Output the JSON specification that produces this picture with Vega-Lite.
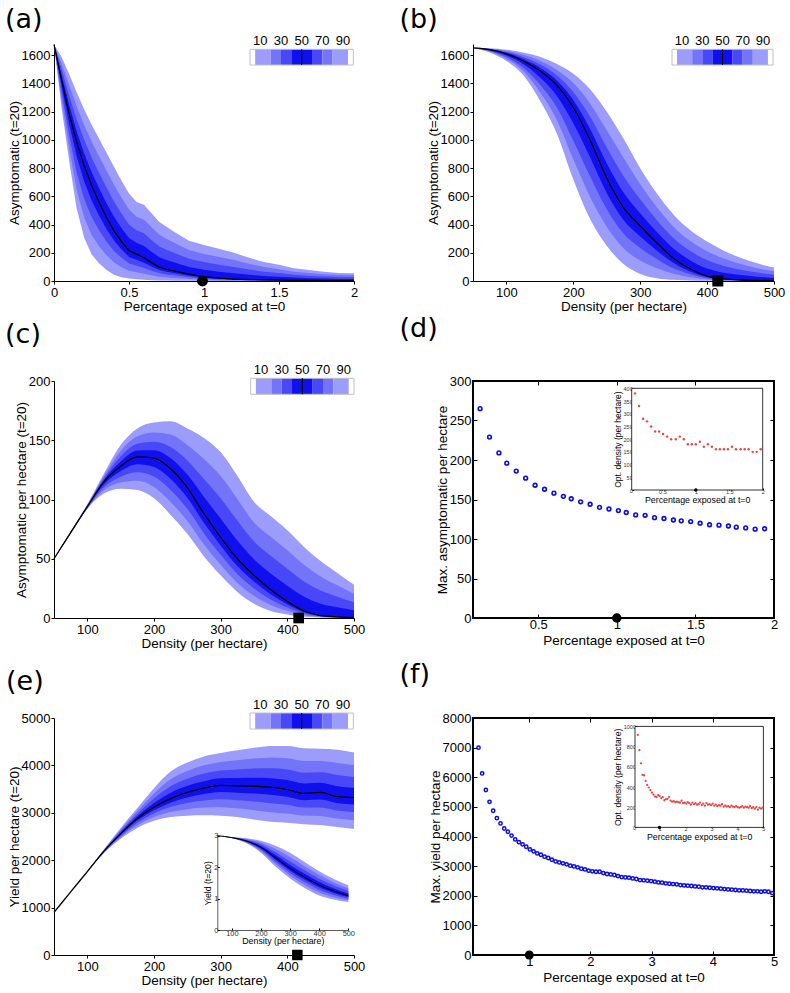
{
"$schema": "https://vega.github.io/schema/vega-lite/v6.json",
"padding": {"left": 5, "top": 6, "right": 2, "bottom": 2},
"background": "white",
"datasets": {
"cbar": [{"c0":0,"c1":5,"k":"w"},{"c0":5,"c1":20,"k":"L1"},{"c0":20,"c1":30,"k":"L2"},{"c0":30,"c1":40,"k":"L3"},{"c0":40,"c1":60,"k":"L4"},{"c0":60,"c1":70,"k":"L3"},{"c0":70,"c1":80,"k":"L2"},{"c0":80,"c1":95,"k":"L1"},{"c0":95,"c1":100,"k":"w"}],
"cbarlab": [{"v":10},{"v":30},{"v":50},{"v":70},{"v":90}],
"a": [
{"x":0,"p10":1675,"p20":1675,"p30":1675,"p40":1675,"p50":1675,"p60":1675,"p70":1675,"p80":1675,"p90":1675},
{"x":0.05,"p10":1230,"p20":1286,"p30":1338,"p40":1386,"p50":1430,"p60":1465,"p70":1504,"p80":1545,"p90":1590},
{"x":0.1,"p10":860,"p20":952,"p30":1038,"p40":1117,"p50":1190,"p60":1252,"p70":1319,"p80":1392,"p90":1470},
{"x":0.15,"p10":520,"p20":652,"p30":774,"p40":887,"p50":990,"p60":1067,"p70":1151,"p80":1242,"p90":1340},
{"x":0.2,"p10":310,"p20":453,"p30":585,"p40":708,"p50":820,"p60":908,"p70":1004,"p80":1108,"p90":1220},
{"x":0.25,"p10":190,"p20":327,"p30":455,"p40":572,"p50":680,"p60":775,"p70":878,"p80":990,"p90":1110},
{"x":0.3,"p10":125,"p20":247,"p30":360,"p40":464,"p50":560,"p60":659,"p70":767,"p80":884,"p90":1010},
{"x":0.35,"p10":78,"p20":182,"p30":279,"p40":368,"p50":450,"p60":551,"p70":662,"p80":781,"p90":910},
{"x":0.4,"p10":45,"p20":132,"p30":212,"p40":287,"p50":355,"p60":455,"p70":564,"p80":683,"p90":810},
{"x":0.45,"p10":27,"p20":98,"p30":164,"p40":224,"p50":280,"p60":375,"p70":478,"p80":590,"p90":710},
{"x":0.5,"p10":17,"p20":72,"p30":124,"p40":171,"p50":215,"p60":304,"p70":401,"p80":507,"p90":620},
{"x":0.55,"p10":12,"p20":62,"p30":108,"p40":151,"p50":190,"p60":271,"p70":360,"p80":456,"p90":560},
{"x":0.6,"p10":8,"p20":52,"p30":93,"p40":130,"p50":165,"p60":248,"p70":338,"p80":435,"p90":540},
{"x":0.65,"p10":6,"p20":41,"p30":73,"p40":103,"p50":130,"p60":207,"p70":291,"p80":382,"p90":480},
{"x":0.7,"p10":4,"p20":31,"p30":56,"p40":79,"p50":100,"p60":170,"p70":247,"p80":330,"p90":420},
{"x":0.75,"p10":3,"p20":25,"p30":46,"p40":65,"p50":82,"p60":149,"p70":221,"p80":300,"p90":385},
{"x":0.8,"p10":2,"p20":22,"p30":40,"p40":57,"p50":72,"p60":133,"p70":200,"p80":272,"p90":350},
{"x":0.9,"p10":1,"p20":14,"p30":26,"p40":38,"p50":48,"p60":100,"p70":157,"p80":219,"p90":285},
{"x":1.0,"p10":0,"p20":8,"p30":16,"p40":23,"p50":30,"p60":80,"p70":134,"p80":192,"p90":255},
{"x":1.1,"p10":0,"p20":6,"p30":11,"p40":16,"p50":20,"p60":66,"p70":116,"p80":170,"p90":228},
{"x":1.2,"p10":0,"p20":4,"p30":8,"p40":11,"p50":14,"p60":55,"p70":100,"p80":148,"p90":200},
{"x":1.3,"p10":0,"p20":3,"p30":5,"p40":8,"p50":10,"p60":44,"p70":81,"p80":122,"p90":165},
{"x":1.4,"p10":0,"p20":2,"p30":4,"p40":6,"p50":8,"p60":36,"p70":66,"p80":99,"p90":135},
{"x":1.5,"p10":0,"p20":2,"p30":3,"p40":5,"p50":6,"p60":30,"p70":56,"p80":84,"p90":115},
{"x":1.6,"p10":0,"p20":1,"p30":3,"p40":4,"p50":5,"p60":24,"p70":44,"p80":66,"p90":90},
{"x":1.7,"p10":0,"p20":1,"p30":2,"p40":3,"p50":4,"p60":20,"p70":38,"p80":57,"p90":78},
{"x":1.8,"p10":0,"p20":1,"p30":2,"p40":2,"p50":3,"p60":17,"p70":32,"p80":48,"p90":65},
{"x":1.9,"p10":0,"p20":1,"p30":2,"p40":2,"p50":3,"p60":15,"p70":28,"p80":42,"p90":57},
{"x":2.0,"p10":0,"p20":1,"p30":1,"p40":2,"p50":2,"p60":14,"p70":26,"p80":40,"p90":55}
],
"b": [
{"x":50,"p10":1652,"p20":1652,"p30":1652,"p40":1652,"p50":1652,"p60":1652,"p70":1652,"p80":1652,"p90":1652},
{"x":75,"p10":1620,"p20":1626,"p30":1631,"p40":1636,"p50":1640,"p60":1642,"p70":1645,"p80":1647,"p90":1650},
{"x":100,"p10":1560,"p20":1574,"p30":1587,"p40":1599,"p50":1610,"p60":1617,"p70":1624,"p80":1632,"p90":1640},
{"x":125,"p10":1460,"p20":1488,"p30":1514,"p40":1538,"p50":1560,"p60":1573,"p70":1588,"p80":1603,"p90":1620},
{"x":150,"p10":1280,"p20":1339,"p30":1393,"p40":1444,"p50":1490,"p60":1512,"p70":1536,"p80":1562,"p90":1590},
{"x":175,"p10":1050,"p20":1145,"p30":1234,"p40":1315,"p50":1390,"p60":1423,"p70":1459,"p80":1498,"p90":1540},
{"x":200,"p10":720,"p20":863,"p30":995,"p40":1118,"p50":1230,"p60":1283,"p70":1340,"p80":1403,"p90":1470},
{"x":225,"p10":440,"p20":597,"p30":742,"p40":877,"p50":1000,"p60":1079,"p70":1166,"p80":1259,"p90":1360},
{"x":250,"p10":250,"p20":384,"p30":509,"p40":624,"p50":730,"p60":833,"p70":946,"p80":1068,"p90":1200},
{"x":275,"p10":120,"p20":232,"p30":336,"p40":432,"p50":520,"p60":628,"p70":745,"p80":873,"p90":1010},
{"x":300,"p10":50,"p20":145,"p30":234,"p40":315,"p50":390,"p60":480,"p70":579,"p80":685,"p90":800},
{"x":325,"p10":20,"p20":90,"p30":155,"p40":215,"p50":270,"p60":347,"p70":431,"p80":522,"p90":620},
{"x":350,"p10":8,"p20":51,"p30":90,"p40":127,"p50":160,"p60":228,"p70":303,"p80":383,"p90":470},
{"x":375,"p10":3,"p20":26,"p30":47,"p40":67,"p50":85,"p60":146,"p70":212,"p80":283,"p90":360},
{"x":400,"p10":1,"p20":11,"p30":19,"p40":28,"p50":35,"p60":89,"p70":148,"p80":211,"p90":280},
{"x":425,"p10":0,"p20":4,"p30":8,"p40":12,"p50":15,"p60":59,"p70":107,"p80":159,"p90":215},
{"x":450,"p10":0,"p20":2,"p30":4,"p40":5,"p50":7,"p60":42,"p70":80,"p80":121,"p90":165},
{"x":475,"p10":0,"p20":1,"p30":2,"p40":3,"p50":4,"p60":31,"p70":60,"p80":91,"p90":125},
{"x":500,"p10":0,"p20":1,"p30":1,"p40":2,"p50":2,"p60":22,"p70":45,"p80":69,"p90":95}
],
"c": [
{"x":50,"p10":50,"p20":50,"p30":50,"p40":50,"p50":50,"p60":50,"p70":50,"p80":50,"p90":50},
{"x":75,"p10":71,"p20":71.3,"p30":71.5,"p40":71.8,"p50":72,"p60":72.2,"p70":72.5,"p80":72.7,"p90":73},
{"x":100,"p10":92,"p20":92.6,"p30":93.1,"p40":93.6,"p50":94,"p60":94.4,"p70":94.9,"p80":95.4,"p90":96},
{"x":125,"p10":105,"p20":107.8,"p30":110.4,"p40":112.8,"p50":115,"p60":116.5,"p70":118.2,"p80":120,"p90":122},
{"x":150,"p10":109,"p20":114.3,"p30":119.3,"p40":123.8,"p50":128,"p60":132,"p70":136.3,"p80":141,"p90":146},
{"x":175,"p10":108,"p20":115.8,"p30":123.1,"p40":129.8,"p50":136,"p60":141.3,"p70":147,"p80":153.3,"p90":160},
{"x":200,"p10":101,"p20":110.5,"p30":119.4,"p40":127.5,"p50":135,"p60":141.6,"p70":148.8,"p80":156.6,"p90":165},
{"x":225,"p10":87,"p20":97.9,"p30":108.1,"p40":117.4,"p50":126,"p60":134.8,"p70":144.4,"p80":154.8,"p90":166},
{"x":250,"p10":71,"p20":81.9,"p30":92.1,"p40":101.4,"p50":110,"p60":121,"p70":133,"p80":146,"p90":160},
{"x":275,"p10":52,"p20":62.1,"p30":71.4,"p40":80.1,"p50":88,"p60":102.1,"p70":117.4,"p80":134.1,"p90":152},
{"x":300,"p10":36,"p20":45,"p30":53.3,"p40":61,"p50":68,"p60":83.8,"p70":101.1,"p80":119.8,"p90":140},
{"x":325,"p10":22,"p20":29.8,"p30":37.1,"p40":43.8,"p50":50,"p60":65.4,"p70":82.2,"p80":100.4,"p90":120},
{"x":350,"p10":12,"p20":18.7,"p30":25,"p40":30.7,"p50":36,"p60":49.6,"p70":64.5,"p80":80.6,"p90":98},
{"x":375,"p10":6,"p20":11,"p30":15.7,"p40":20,"p50":24,"p60":37.6,"p70":52.5,"p80":68.6,"p90":86},
{"x":400,"p10":3,"p20":6.1,"p30":8.9,"p40":11.6,"p50":14,"p60":27.2,"p70":41.6,"p80":57.2,"p90":74},
{"x":425,"p10":1,"p20":2.4,"p30":3.7,"p40":4.9,"p50":6,"p60":17.9,"p70":30.8,"p80":44.9,"p90":60},
{"x":450,"p10":0.5,"p20":0.9,"p30":1.3,"p40":1.7,"p50":2,"p60":12.1,"p70":23.2,"p80":35.1,"p90":48},
{"x":475,"p10":0,"p20":0.3,"p30":0.5,"p40":0.8,"p50":1,"p60":9.1,"p70":18,"p80":27.6,"p90":38},
{"x":500,"p10":0,"p20":0.1,"p30":0.3,"p40":0.4,"p50":0.5,"p60":6.6,"p70":13.2,"p80":20.3,"p90":28}
],
"e": [
{"x":50,"p10":900,"p20":900,"p30":900,"p40":900,"p50":900,"p60":900,"p70":900,"p80":900,"p90":900},
{"x":75,"p10":1330,"p20":1330,"p30":1330,"p40":1330,"p50":1330,"p60":1330,"p70":1330,"p80":1330,"p90":1330},
{"x":100,"p10":1750,"p20":1753,"p30":1755,"p40":1758,"p50":1760,"p60":1762,"p70":1765,"p80":1767,"p90":1770},
{"x":125,"p10":2150,"p20":2161,"p30":2172,"p40":2181,"p50":2190,"p60":2199,"p70":2208,"p80":2219,"p90":2230},
{"x":150,"p10":2450,"p20":2481,"p30":2509,"p40":2536,"p50":2560,"p60":2586,"p70":2615,"p80":2646,"p90":2680},
{"x":175,"p10":2680,"p20":2736,"p30":2788,"p40":2836,"p50":2880,"p60":2928,"p70":2981,"p80":3038,"p90":3100},
{"x":200,"p10":2830,"p20":2911,"p30":2987,"p40":3056,"p50":3120,"p60":3208,"p70":3304,"p80":3408,"p90":3520},
{"x":225,"p10":2910,"p20":3019,"p30":3121,"p40":3214,"p50":3300,"p60":3425,"p70":3562,"p80":3710,"p90":3870},
{"x":250,"p10":2940,"p20":3077,"p30":3205,"p40":3322,"p50":3430,"p60":3569,"p70":3720,"p80":3884,"p90":4060},
{"x":275,"p10":2950,"p20":3110,"p30":3258,"p40":3395,"p50":3520,"p60":3667,"p70":3828,"p80":4002,"p90":4190},
{"x":300,"p10":2940,"p20":3119,"p30":3286,"p40":3439,"p50":3580,"p60":3730,"p70":3893,"p80":4070,"p90":4260},
{"x":325,"p10":2910,"p20":3095,"p30":3266,"p40":3425,"p50":3570,"p60":3735,"p70":3915,"p80":4110,"p90":4320},
{"x":350,"p10":2860,"p20":3056,"p30":3238,"p40":3406,"p50":3560,"p60":3738,"p70":3933,"p80":4143,"p90":4370},
{"x":375,"p10":2810,"p20":3014,"p30":3204,"p40":3379,"p50":3540,"p60":3731,"p70":3940,"p80":4166,"p90":4410},
{"x":400,"p10":2790,"p20":2986,"p30":3168,"p40":3336,"p50":3490,"p60":3692,"p70":3913,"p80":4152,"p90":4410},
{"x":425,"p10":2760,"p20":2942,"p30":3111,"p40":3267,"p50":3410,"p60":3619,"p70":3847,"p80":4094,"p90":4360},
{"x":450,"p10":2740,"p20":2933,"p30":3113,"p40":3278,"p50":3430,"p60":3632,"p70":3853,"p80":4092,"p90":4350},
{"x":475,"p10":2700,"p20":2879,"p30":3046,"p40":3199,"p50":3340,"p60":3558,"p70":3795,"p80":4053,"p90":4330},
{"x":500,"p10":2660,"p20":2845,"p30":3016,"p40":3175,"p50":3320,"p60":3529,"p70":3757,"p80":4004,"p90":4270}
],
"einset": [
{"x":50,"p10":30000,"p20":30000,"p30":30000,"p40":30000,"p50":30000,"p60":30000,"p70":30000,"p80":30000,"p90":30000},
{"x":100,"p10":29200,"p20":29256,"p30":29308,"p40":29356,"p50":29400,"p60":29444,"p70":29492,"p80":29544,"p90":29600},
{"x":150,"p10":27600,"p20":27796,"p30":27978,"p40":28146,"p50":28300,"p60":28498,"p70":28714,"p80":28948,"p90":29200},
{"x":200,"p10":24600,"p20":25076,"p30":25518,"p40":25926,"p50":26300,"p60":26762,"p70":27266,"p80":27812,"p90":28400},
{"x":250,"p10":20200,"p20":20984,"p30":21712,"p40":22384,"p50":23000,"p60":23836,"p70":24748,"p80":25736,"p90":26800},
{"x":300,"p10":16400,"p20":17296,"p30":18128,"p40":18896,"p50":19600,"p60":20700,"p70":21900,"p80":23200,"p90":24600},
{"x":350,"p10":13400,"p20":14352,"p30":15236,"p40":16052,"p50":16800,"p60":17856,"p70":19008,"p80":20256,"p90":21600},
{"x":400,"p10":11000,"p20":11924,"p30":12782,"p40":13574,"p50":14300,"p60":15268,"p70":16324,"p80":17468,"p90":18700},
{"x":450,"p10":9700,"p20":10456,"p30":11158,"p40":11806,"p50":12400,"p60":13236,"p70":14148,"p80":15136,"p90":16200},
{"x":500,"p10":8900,"p20":9460,"p30":9980,"p40":10460,"p50":10900,"p60":11626,"p70":12418,"p80":13276,"p90":14200}
],
"d": [
{"x":0.13,"y":265,"xi":0.09,"opt":380},{"x":0.19,"y":229,"xi":0.15,"opt":330},{"x":0.25,"y":209,"xi":0.21,"opt":280},{"x":0.30,"y":196,"xi":0.27,"opt":270},
{"x":0.36,"y":186,"xi":0.33,"opt":250},{"x":0.42,"y":177,"xi":0.39,"opt":230},{"x":0.48,"y":168,"xi":0.45,"opt":230},{"x":0.54,"y":163,"xi":0.51,"opt":220},
{"x":0.60,"y":158,"xi":0.57,"opt":210},{"x":0.66,"y":154,"xi":0.63,"opt":200},{"x":0.71,"y":151,"xi":0.70,"opt":200},{"x":0.77,"y":147,"xi":0.76,"opt":210},
{"x":0.83,"y":144,"xi":0.82,"opt":200},{"x":0.89,"y":140,"xi":0.88,"opt":180},{"x":0.95,"y":138,"xi":0.94,"opt":180},{"x":1.01,"y":136,"xi":1.00,"opt":180},
{"x":1.06,"y":133.5,"xi":1.06,"opt":190},{"x":1.12,"y":130.5,"xi":1.12,"opt":170},{"x":1.18,"y":130,"xi":1.18,"opt":180},{"x":1.24,"y":127,"xi":1.24,"opt":170},
{"x":1.30,"y":126,"xi":1.30,"opt":160},{"x":1.36,"y":124,"xi":1.36,"opt":160},{"x":1.41,"y":123,"xi":1.42,"opt":160},{"x":1.47,"y":122,"xi":1.48,"opt":160},
{"x":1.53,"y":120,"xi":1.54,"opt":170},{"x":1.59,"y":118,"xi":1.60,"opt":160},{"x":1.65,"y":117.5,"xi":1.67,"opt":160},{"x":1.71,"y":116.5,"xi":1.73,"opt":160},
{"x":1.76,"y":115,"xi":1.79,"opt":160},{"x":1.82,"y":114,"xi":1.85,"opt":150},{"x":1.88,"y":112.5,"xi":1.91,"opt":150},{"x":1.94,"y":113,"xi":1.97,"opt":160}
],
"f": [
{"x":0.17,"y":7000,"opt":915},{"x":0.23,"y":6130,"opt":765},{"x":0.29,"y":5570,"opt":635},{"x":0.35,"y":5170,"opt":520},{"x":0.41,"y":4870,"opt":515},
{"x":0.47,"y":4620,"opt":460},{"x":0.53,"y":4440,"opt":420},{"x":0.59,"y":4270,"opt":395},{"x":0.65,"y":4160,"opt":370},{"x":0.71,"y":4030,"opt":345},
{"x":0.77,"y":3900,"opt":325},{"x":0.83,"y":3810,"opt":305},{"x":0.89,"y":3735,"opt":300},{"x":0.95,"y":3655,"opt":320},{"x":1.01,"y":3565,"opt":310},
{"x":1.07,"y":3500,"opt":290},{"x":1.13,"y":3430,"opt":300},{"x":1.19,"y":3385,"opt":270},{"x":1.25,"y":3320,"opt":280},{"x":1.31,"y":3275,"opt":280},
{"x":1.37,"y":3215,"opt":300},{"x":1.43,"y":3160,"opt":265},{"x":1.49,"y":3125,"opt":255},{"x":1.55,"y":3095,"opt":260},{"x":1.61,"y":3060,"opt":250},
{"x":1.67,"y":3015,"opt":255},{"x":1.73,"y":2990,"opt":250},{"x":1.79,"y":2960,"opt":245},{"x":1.85,"y":2915,"opt":265},{"x":1.91,"y":2890,"opt":240},
{"x":1.97,"y":2845,"opt":245},{"x":2.03,"y":2825,"opt":235},{"x":2.09,"y":2810,"opt":250},{"x":2.15,"y":2810,"opt":240},{"x":2.21,"y":2765,"opt":225},
{"x":2.27,"y":2735,"opt":245},{"x":2.33,"y":2720,"opt":230},{"x":2.39,"y":2700,"opt":240},{"x":2.45,"y":2665,"opt":225},{"x":2.51,"y":2630,"opt":230},
{"x":2.57,"y":2620,"opt":245},{"x":2.63,"y":2610,"opt":220},{"x":2.69,"y":2585,"opt":235},{"x":2.75,"y":2565,"opt":215},{"x":2.81,"y":2530,"opt":240},
{"x":2.87,"y":2520,"opt":225},{"x":2.93,"y":2510,"opt":230},{"x":2.99,"y":2495,"opt":220},{"x":3.05,"y":2475,"opt":235},{"x":3.11,"y":2450,"opt":215},
{"x":3.17,"y":2440,"opt":225},{"x":3.23,"y":2420,"opt":210},{"x":3.29,"y":2405,"opt":220},{"x":3.35,"y":2395,"opt":215},{"x":3.41,"y":2385,"opt":230},
{"x":3.47,"y":2360,"opt":205},{"x":3.53,"y":2350,"opt":215},{"x":3.59,"y":2340,"opt":205},{"x":3.65,"y":2330,"opt":210},{"x":3.71,"y":2315,"opt":200},
{"x":3.77,"y":2305,"opt":215},{"x":3.83,"y":2285,"opt":205},{"x":3.89,"y":2285,"opt":200},{"x":3.95,"y":2270,"opt":210},{"x":4.01,"y":2260,"opt":200},
{"x":4.07,"y":2250,"opt":195},{"x":4.13,"y":2240,"opt":200},{"x":4.19,"y":2225,"opt":210},{"x":4.25,"y":2215,"opt":195},{"x":4.31,"y":2205,"opt":205},
{"x":4.37,"y":2195,"opt":200},{"x":4.43,"y":2180,"opt":195},{"x":4.49,"y":2180,"opt":210},{"x":4.55,"y":2170,"opt":190},{"x":4.61,"y":2160,"opt":200},
{"x":4.67,"y":2150,"opt":185},{"x":4.73,"y":2150,"opt":200},{"x":4.79,"y":2135,"opt":175},{"x":4.85,"y":2150,"opt":195},{"x":4.91,"y":2135,"opt":185},
{"x":4.97,"y":2090,"opt":195}
]
},
"concat": [
{
 "width": 300, "height": 237,
 "title": {"text": "(a)", "dx": -49, "offset": 1},
 "layer": [
  {"data": {"name": "a"},
   "encoding": {"x": {"field": "x", "type": "quantitative", "scale": {"domain": [0, 2], "nice": false, "zero": false}, "axis": {"values": [0, 0.5, 1, 1.5, 2], "tickCount": 30, "format": "~f", "labelOverlap": false, "title": "Percentage exposed at t=0"}}},
   "layer": [
    {"mark": {"type": "area", "color": "#9c9cfb", "opacity": 1}, "encoding": {"y": {"field": "p10", "type": "quantitative", "scale": {"domain": [0, 1680], "nice": false}, "axis": {"values": [0, 200, 400, 600, 800, 1000, 1200, 1400, 1600], "tickCount": 30, "format": "~f", "labelOverlap": false, "title": "Asymptomatic (t=20)"}}, "y2": {"field": "p90"}}},
    {"mark": {"type": "area", "color": "#7474f9", "opacity": 1}, "encoding": {"y": {"field": "p20", "type": "quantitative"}, "y2": {"field": "p80"}}},
    {"mark": {"type": "area", "color": "#4848f6", "opacity": 1}, "encoding": {"y": {"field": "p30", "type": "quantitative"}, "y2": {"field": "p70"}}},
    {"mark": {"type": "area", "color": "#1010ee", "opacity": 1}, "encoding": {"y": {"field": "p40", "type": "quantitative"}, "y2": {"field": "p60"}}},
    {"mark": {"type": "line", "color": "#000", "strokeWidth": 1.3}, "encoding": {"y": {"field": "p50", "type": "quantitative"}}},
    {"data": {"values": [{"mx": 0.99, "my": 0}]}, "mark": {"type": "point", "shape": "circle", "filled": true, "color": "#000", "opacity": 1, "size": 120}, "encoding": {"x": {"field": "mx", "type": "quantitative"}, "y": {"field": "my", "type": "quantitative"}}}
   ]},
  {"layer": [
    {"data": {"name": "cbar"}, "mark": {"type": "rect"}, "encoding": {"x": {"field": "c0", "type": "quantitative", "scale": {"domain": [0, 100], "range": [196, 299.3], "nice": false, "zero": false}, "axis": null}, "x2": {"field": "c1"}, "y": {"datum": 0, "type": "quantitative", "scale": {"domain": [0, 1], "range": [21, 5.3], "nice": false}, "axis": null}, "y2": {"datum": 1}, "color": {"field": "k", "type": "nominal", "scale": {"domain": ["w", "L1", "L2", "L3", "L4"], "range": ["#ffffff", "#9c9cfb", "#7474f9", "#4848f6", "#1010ee"]}, "legend": null}}},
    {"data": {"values": [{}]}, "mark": {"type": "rect", "filled": false, "color": "#c0c0c0", "strokeWidth": 1}, "encoding": {"x": {"datum": 0}, "x2": {"datum": 100}, "y": {"datum": 0}, "y2": {"datum": 1}}},
    {"data": {"values": [{}]}, "mark": {"type": "rule", "color": "#000", "strokeWidth": 1.2}, "encoding": {"x": {"datum": 50}, "y": {"datum": 0}, "y2": {"datum": 1}}},
    {"data": {"name": "cbarlab"}, "mark": {"type": "text", "baseline": "bottom", "dy": -1, "fontSize": 13, "font": "Liberation Sans", "color": "#000"}, "encoding": {"x": {"field": "v", "type": "quantitative"}, "y": {"datum": 1}, "text": {"field": "v", "type": "quantitative"}}}
  ]}
 ],
 "resolve": {"scale": {"x": "independent", "y": "independent"}}
},
{
 "width": 301, "height": 237,
 "title": {"text": "(b)", "dx": -73.5, "offset": 1},
 "layer": [
  {"data": {"name": "b"},
   "encoding": {"x": {"field": "x", "type": "quantitative", "scale": {"domain": [50, 500], "nice": false, "zero": false}, "axis": {"values": [100, 200, 300, 400, 500], "tickCount": 30, "format": "~f", "labelOverlap": false, "title": "Density (per hectare)"}}},
   "layer": [
    {"mark": {"type": "area", "color": "#9c9cfb", "opacity": 1, "interpolate": "monotone"}, "encoding": {"y": {"field": "p10", "type": "quantitative", "scale": {"domain": [0, 1680], "nice": false}, "axis": {"values": [0, 200, 400, 600, 800, 1000, 1200, 1400, 1600], "tickCount": 30, "format": "~f", "labelOverlap": false, "title": "Asymptomatic (t=20)"}}, "y2": {"field": "p90"}}},
    {"mark": {"type": "area", "color": "#7474f9", "opacity": 1, "interpolate": "monotone"}, "encoding": {"y": {"field": "p20", "type": "quantitative"}, "y2": {"field": "p80"}}},
    {"mark": {"type": "area", "color": "#4848f6", "opacity": 1, "interpolate": "monotone"}, "encoding": {"y": {"field": "p30", "type": "quantitative"}, "y2": {"field": "p70"}}},
    {"mark": {"type": "area", "color": "#1010ee", "opacity": 1, "interpolate": "monotone"}, "encoding": {"y": {"field": "p40", "type": "quantitative"}, "y2": {"field": "p60"}}},
    {"mark": {"type": "line", "color": "#000", "strokeWidth": 1.3, "interpolate": "monotone"}, "encoding": {"y": {"field": "p50", "type": "quantitative"}}},
    {"data": {"values": [{"mx": 416, "my": 0}]}, "mark": {"type": "point", "shape": "square", "filled": true, "color": "#000", "opacity": 1, "size": 121}, "encoding": {"x": {"field": "mx", "type": "quantitative"}, "y": {"field": "my", "type": "quantitative"}}}
   ]},
  {"layer": [
    {"data": {"name": "cbar"}, "mark": {"type": "rect"}, "encoding": {"x": {"field": "c0", "type": "quantitative", "scale": {"domain": [0, 100], "range": [199, 300], "nice": false, "zero": false}, "axis": null}, "x2": {"field": "c1"}, "y": {"datum": 0, "type": "quantitative", "scale": {"domain": [0, 1], "range": [21, 5.3], "nice": false}, "axis": null}, "y2": {"datum": 1}, "color": {"field": "k", "type": "nominal", "scale": {"domain": ["w", "L1", "L2", "L3", "L4"], "range": ["#ffffff", "#9c9cfb", "#7474f9", "#4848f6", "#1010ee"]}, "legend": null}}},
    {"data": {"values": [{}]}, "mark": {"type": "rect", "filled": false, "color": "#c0c0c0", "strokeWidth": 1}, "encoding": {"x": {"datum": 0}, "x2": {"datum": 100}, "y": {"datum": 0}, "y2": {"datum": 1}}},
    {"data": {"values": [{}]}, "mark": {"type": "rule", "color": "#000", "strokeWidth": 1.2}, "encoding": {"x": {"datum": 50}, "y": {"datum": 0}, "y2": {"datum": 1}}},
    {"data": {"name": "cbarlab"}, "mark": {"type": "text", "baseline": "bottom", "dy": -1, "fontSize": 13, "font": "Liberation Sans", "color": "#000"}, "encoding": {"x": {"field": "v", "type": "quantitative"}, "y": {"datum": 1}, "text": {"field": "v", "type": "quantitative"}}}
  ]}
 ],
 "resolve": {"scale": {"x": "independent", "y": "independent"}}
},
{
 "width": 300, "height": 237,
 "title": {"text": "(c)", "dx": -49, "offset": 15},
 "layer": [
  {"data": {"name": "c"},
   "encoding": {"x": {"field": "x", "type": "quantitative", "scale": {"domain": [50, 500], "nice": false, "zero": false}, "axis": {"values": [100, 200, 300, 400, 500], "tickCount": 30, "format": "~f", "labelOverlap": false, "title": "Density (per hectare)"}}},
   "layer": [
    {"mark": {"type": "area", "color": "#9c9cfb", "opacity": 1, "interpolate": "monotone"}, "encoding": {"y": {"field": "p10", "type": "quantitative", "scale": {"domain": [0, 200], "nice": false}, "axis": {"values": [0, 50, 100, 150, 200], "tickCount": 30, "format": "~f", "labelOverlap": false, "title": "Asymptomatic per hectare (t=20)"}}, "y2": {"field": "p90"}}},
    {"mark": {"type": "area", "color": "#7474f9", "opacity": 1, "interpolate": "monotone"}, "encoding": {"y": {"field": "p20", "type": "quantitative"}, "y2": {"field": "p80"}}},
    {"mark": {"type": "area", "color": "#4848f6", "opacity": 1, "interpolate": "monotone"}, "encoding": {"y": {"field": "p30", "type": "quantitative"}, "y2": {"field": "p70"}}},
    {"mark": {"type": "area", "color": "#1010ee", "opacity": 1, "interpolate": "monotone"}, "encoding": {"y": {"field": "p40", "type": "quantitative"}, "y2": {"field": "p60"}}},
    {"mark": {"type": "line", "color": "#000", "strokeWidth": 1.3, "interpolate": "monotone"}, "encoding": {"y": {"field": "p50", "type": "quantitative"}}},
    {"data": {"values": [{"mx": 417, "my": 0}]}, "mark": {"type": "point", "shape": "square", "filled": true, "color": "#000", "opacity": 1, "size": 114}, "encoding": {"x": {"field": "mx", "type": "quantitative"}, "y": {"field": "my", "type": "quantitative"}}}
   ]},
  {"layer": [
    {"data": {"name": "cbar"}, "mark": {"type": "rect"}, "encoding": {"x": {"field": "c0", "type": "quantitative", "scale": {"domain": [0, 100], "range": [196.7, 300], "nice": false, "zero": false}, "axis": null}, "x2": {"field": "c1"}, "y": {"datum": 0, "type": "quantitative", "scale": {"domain": [0, 1], "range": [13.3, -2.7], "nice": false}, "axis": null}, "y2": {"datum": 1}, "color": {"field": "k", "type": "nominal", "scale": {"domain": ["w", "L1", "L2", "L3", "L4"], "range": ["#ffffff", "#9c9cfb", "#7474f9", "#4848f6", "#1010ee"]}, "legend": null}}},
    {"data": {"values": [{}]}, "mark": {"type": "rect", "filled": false, "color": "#c0c0c0", "strokeWidth": 1}, "encoding": {"x": {"datum": 0}, "x2": {"datum": 100}, "y": {"datum": 0}, "y2": {"datum": 1}}},
    {"data": {"values": [{}]}, "mark": {"type": "rule", "color": "#000", "strokeWidth": 1.2}, "encoding": {"x": {"datum": 50}, "y": {"datum": 0}, "y2": {"datum": 1}}},
    {"data": {"name": "cbarlab"}, "mark": {"type": "text", "baseline": "bottom", "dy": -1, "fontSize": 13, "font": "Liberation Sans", "color": "#000"}, "encoding": {"x": {"field": "v", "type": "quantitative"}, "y": {"datum": 1}, "text": {"field": "v", "type": "quantitative"}}}
  ]}
 ],
 "resolve": {"scale": {"x": "independent", "y": "independent"}}
},
{
 "width": 301, "height": 237,
 "title": {"text": "(d)", "dx": -73.5, "offset": 32},
 "view": {"stroke": "#000", "strokeWidth": 2},
 "layer": [
  {"data": {"name": "d"}, "layer": [
    {"mark": {"type": "point", "shape": "circle", "filled": false, "color": "#0b0be6", "strokeWidth": 1.6, "size": 14, "opacity": 1},
     "encoding": {"x": {"field": "x", "type": "quantitative", "scale": {"domain": [0.085, 2], "nice": false, "zero": false}, "axis": {"orient": "bottom", "values": [0.5, 1, 1.5, 2], "tickCount": 30, "format": "~f", "labelOverlap": false, "tickSize": -4, "domain": false, "labelPadding": 4, "titlePadding": 2, "title": "Percentage exposed at t=0"}},
                  "y": {"field": "y", "type": "quantitative", "scale": {"domain": [0, 300], "nice": false}, "axis": {"orient": "left", "values": [0, 50, 100, 150, 200, 250, 300], "tickCount": 30, "format": "~f", "labelOverlap": false, "tickSize": -4, "domain": false, "labelPadding": 6, "title": "Max. asymptomatic per hectare"}}}},
    {"data": {"values": [{"mx": 1, "my": 0}]}, "mark": {"type": "point", "shape": "circle", "filled": true, "color": "#000", "opacity": 1, "size": 90}, "encoding": {"x": {"field": "mx", "type": "quantitative"}, "y": {"field": "my", "type": "quantitative"}}}
  ]},
  {"data": {"values": [{}]}, "mark": {"type": "point", "opacity": 0},
   "encoding": {"x": {"datum": 1, "type": "quantitative", "scale": {"domain": [0.085, 2], "nice": false, "zero": false}, "axis": {"orient": "top", "values": [0.5, 1, 1.5, 2], "tickCount": 30, "tickSize": -4, "labels": false, "domain": false, "title": null}},
                "y": {"datum": 0, "type": "quantitative", "scale": {"domain": [0, 300], "nice": false}, "axis": {"orient": "right", "values": [0, 50, 100, 150, 200, 250, 300], "tickCount": 30, "tickSize": -4, "labels": false, "domain": false, "title": null}}}},
  {"data": {"name": "d"}, "layer": [
    {"data": {"values": [{}]}, "mark": {"type": "rect", "fill": "#ffffff", "stroke": "#000", "strokeWidth": 0.8},
     "encoding": {"x": {"datum": 0.04, "type": "quantitative", "scale": {"domain": [0.04, 2], "range": [158.7, 289.7], "nice": false, "zero": false}, "axis": {"orient": "bottom", "offset": -128, "values": [0.5, 1, 1.5, 2], "tickCount": 30, "format": "~f", "labelOverlap": false, "tickSize": -2, "domain": false, "labelFontSize": 5.5, "labelPadding": 1.5, "labelColor": "#333", "title": "Percentage exposed at t=0", "titleFontSize": 8.8, "titlePadding": 0}},
                  "x2": {"datum": 2},
                  "y": {"datum": 0, "type": "quantitative", "scale": {"domain": [0, 400], "range": [109, 7.3], "nice": false}, "axis": {"orient": "left", "offset": -158.7, "values": [0, 50, 100, 150, 200, 250, 300, 350, 400], "tickCount": 30, "format": "~f", "labelOverlap": false, "tickSize": -2, "domain": false, "labelFontSize": 5.5, "labelPadding": 1.5, "labelColor": "#333", "title": "Opt. density (per hectare)", "titleFontSize": 8.5, "titlePadding": 1}},
                  "y2": {"datum": 400}}},
    {"mark": {"type": "point", "shape": "circle", "filled": true, "color": "#ee4444", "size": 6, "opacity": 1}, "encoding": {"x": {"field": "xi", "type": "quantitative"}, "y": {"field": "opt", "type": "quantitative"}}},
    {"data": {"values": [{"mx": 1, "my": 0}]}, "mark": {"type": "point", "shape": "circle", "filled": true, "color": "#000", "opacity": 1, "size": 12}, "encoding": {"x": {"field": "mx", "type": "quantitative"}, "y": {"field": "my", "type": "quantitative"}}}
  ]}
 ],
 "resolve": {"scale": {"x": "independent", "y": "independent"}}
},
{
 "width": 300, "height": 237,
 "title": {"text": "(e)", "dx": -48, "offset": 3},
 "layer": [
  {"data": {"name": "e"},
   "encoding": {"x": {"field": "x", "type": "quantitative", "scale": {"domain": [50, 500], "nice": false, "zero": false}, "axis": {"values": [100, 200, 300, 400, 500], "tickCount": 30, "format": "~f", "labelOverlap": false, "title": "Density (per hectare)"}}},
   "layer": [
    {"mark": {"type": "area", "color": "#9c9cfb", "opacity": 1, "interpolate": "monotone"}, "encoding": {"y": {"field": "p10", "type": "quantitative", "scale": {"domain": [0, 5000], "nice": false}, "axis": {"values": [0, 1000, 2000, 3000, 4000, 5000], "tickCount": 30, "format": "~f", "labelOverlap": false, "title": "Yield per hectare (t=20)"}}, "y2": {"field": "p90"}}},
    {"mark": {"type": "area", "color": "#7474f9", "opacity": 1, "interpolate": "monotone"}, "encoding": {"y": {"field": "p20", "type": "quantitative"}, "y2": {"field": "p80"}}},
    {"mark": {"type": "area", "color": "#4848f6", "opacity": 1, "interpolate": "monotone"}, "encoding": {"y": {"field": "p30", "type": "quantitative"}, "y2": {"field": "p70"}}},
    {"mark": {"type": "area", "color": "#1010ee", "opacity": 1, "interpolate": "monotone"}, "encoding": {"y": {"field": "p40", "type": "quantitative"}, "y2": {"field": "p60"}}},
    {"mark": {"type": "line", "color": "#000", "strokeWidth": 1.3, "interpolate": "monotone"}, "encoding": {"y": {"field": "p50", "type": "quantitative"}}},
    {"data": {"values": [{"mx": 415, "my": 0}]}, "mark": {"type": "point", "shape": "square", "filled": true, "color": "#000", "opacity": 1, "size": 110}, "encoding": {"x": {"field": "mx", "type": "quantitative"}, "y": {"field": "my", "type": "quantitative"}}}
   ]},
  {"data": {"name": "einset"},
   "encoding": {"x": {"field": "x", "type": "quantitative", "scale": {"domain": [50, 500], "range": [163.3, 294.3], "nice": false, "zero": false}, "axis": {"orient": "bottom", "offset": -25, "values": [100, 200, 300, 400, 500], "tickCount": 30, "format": "~f", "labelOverlap": false, "tickSize": -2, "labelFontSize": 7.4, "labelPadding": 1.5, "labelColor": "#333", "domainColor": "#333", "domainWidth": 0.8, "title": "Density (per hectare)", "titleFontSize": 8.8, "titlePadding": 0}}},
   "layer": [
    {"mark": {"type": "area", "color": "#9c9cfb", "opacity": 1, "interpolate": "monotone"}, "encoding": {"y": {"field": "p10", "type": "quantitative", "scale": {"domain": [0, 30000], "range": [212, 117.7], "nice": false}, "axis": {"orient": "left", "offset": -163.3, "values": [0, 10000, 20000, 30000], "tickCount": 30, "labelExpr": "datum.value / 10000", "labelOverlap": false, "tickSize": -2, "labelFontSize": 7.4, "labelPadding": 1.5, "labelColor": "#333", "domainColor": "#333", "domainWidth": 0.8, "title": "Yield (t=20)", "titleFontSize": 8.7, "titlePadding": 1}}, "y2": {"field": "p90"}}},
    {"mark": {"type": "area", "color": "#7474f9", "opacity": 1, "interpolate": "monotone"}, "encoding": {"y": {"field": "p20", "type": "quantitative"}, "y2": {"field": "p80"}}},
    {"mark": {"type": "area", "color": "#4848f6", "opacity": 1, "interpolate": "monotone"}, "encoding": {"y": {"field": "p30", "type": "quantitative"}, "y2": {"field": "p70"}}},
    {"mark": {"type": "area", "color": "#1010ee", "opacity": 1, "interpolate": "monotone"}, "encoding": {"y": {"field": "p40", "type": "quantitative"}, "y2": {"field": "p60"}}},
    {"mark": {"type": "line", "color": "#000", "strokeWidth": 1, "interpolate": "monotone"}, "encoding": {"y": {"field": "p50", "type": "quantitative"}}},
    {"data": {"values": [{}]}, "mark": {"type": "text", "text": "x 10", "align": "left", "baseline": "bottom", "fontSize": 7.5, "dx": 0, "dy": -1.5, "color": "#333"}, "encoding": {"x": {"datum": 50}, "y": {"datum": 30000}}},
    {"data": {"values": [{}]}, "mark": {"type": "text", "text": "4", "align": "left", "baseline": "bottom", "fontSize": 5.5, "dx": 15.5, "dy": -5.5, "color": "#333"}, "encoding": {"x": {"datum": 50}, "y": {"datum": 30000}}}
   ]},
  {"layer": [
    {"data": {"name": "cbar"}, "mark": {"type": "rect"}, "encoding": {"x": {"field": "c0", "type": "quantitative", "scale": {"domain": [0, 100], "range": [196, 299.3], "nice": false, "zero": false}, "axis": null}, "x2": {"field": "c1"}, "y": {"datum": 0, "type": "quantitative", "scale": {"domain": [0, 1], "range": [11, -5], "nice": false}, "axis": null}, "y2": {"datum": 1}, "color": {"field": "k", "type": "nominal", "scale": {"domain": ["w", "L1", "L2", "L3", "L4"], "range": ["#ffffff", "#9c9cfb", "#7474f9", "#4848f6", "#1010ee"]}, "legend": null}}},
    {"data": {"values": [{}]}, "mark": {"type": "rect", "filled": false, "color": "#c0c0c0", "strokeWidth": 1}, "encoding": {"x": {"datum": 0}, "x2": {"datum": 100}, "y": {"datum": 0}, "y2": {"datum": 1}}},
    {"data": {"values": [{}]}, "mark": {"type": "rule", "color": "#000", "strokeWidth": 1.2}, "encoding": {"x": {"datum": 50}, "y": {"datum": 0}, "y2": {"datum": 1}}},
    {"data": {"name": "cbarlab"}, "mark": {"type": "text", "baseline": "bottom", "dy": -1, "fontSize": 13, "font": "Liberation Sans", "color": "#000"}, "encoding": {"x": {"field": "v", "type": "quantitative"}, "y": {"datum": 1}, "text": {"field": "v", "type": "quantitative"}}}
  ]}
 ],
 "resolve": {"scale": {"x": "independent", "y": "independent"}}
},
{
 "width": 301, "height": 237,
 "title": {"text": "(f)", "dx": -73.5, "offset": 23},
 "view": {"stroke": "#000", "strokeWidth": 2},
 "layer": [
  {"data": {"name": "f"}, "layer": [
    {"mark": {"type": "point", "shape": "circle", "filled": false, "color": "#0b0be6", "strokeWidth": 1.5, "size": 11, "opacity": 1},
     "encoding": {"x": {"field": "x", "type": "quantitative", "scale": {"domain": [0.08, 5], "nice": false, "zero": false}, "axis": {"orient": "bottom", "values": [1, 2, 3, 4, 5], "tickCount": 30, "format": "~f", "labelOverlap": false, "tickSize": -4, "domain": false, "labelPadding": 4, "titlePadding": 2, "title": "Percentage exposed at t=0"}},
                  "y": {"field": "y", "type": "quantitative", "scale": {"domain": [0, 8000], "nice": false}, "axis": {"orient": "left", "values": [0, 1000, 2000, 3000, 4000, 5000, 6000, 7000, 8000], "tickCount": 30, "format": "~f", "labelOverlap": false, "tickSize": -4, "domain": false, "labelPadding": 6, "title": "Max. yield per hectare"}}}},
    {"data": {"values": [{"mx": 1, "my": 0}]}, "mark": {"type": "point", "shape": "circle", "filled": true, "color": "#000", "opacity": 1, "size": 80}, "encoding": {"x": {"field": "mx", "type": "quantitative"}, "y": {"field": "my", "type": "quantitative"}}}
  ]},
  {"data": {"values": [{}]}, "mark": {"type": "point", "opacity": 0},
   "encoding": {"x": {"datum": 1, "type": "quantitative", "scale": {"domain": [0.08, 5], "nice": false, "zero": false}, "axis": {"orient": "top", "values": [1, 2, 3, 4, 5], "tickCount": 30, "tickSize": -4, "labels": false, "domain": false, "title": null}},
                "y": {"datum": 0, "type": "quantitative", "scale": {"domain": [0, 8000], "nice": false}, "axis": {"orient": "right", "values": [0, 1000, 2000, 3000, 4000, 5000, 6000, 7000, 8000], "tickCount": 30, "tickSize": -4, "labels": false, "domain": false, "title": null}}}},
  {"data": {"name": "f"}, "layer": [
    {"data": {"values": [{}]}, "mark": {"type": "rect", "fill": "#ffffff", "stroke": "#000", "strokeWidth": 0.8},
     "encoding": {"x": {"datum": 0.06, "type": "quantitative", "scale": {"domain": [0.06, 5], "range": [162, 290.4], "nice": false, "zero": false}, "axis": {"orient": "bottom", "offset": -127.6, "values": [1, 2, 3, 4, 5], "tickCount": 30, "format": "~f", "labelOverlap": false, "tickSize": -2, "domain": false, "labelFontSize": 5.5, "labelPadding": 1.5, "labelColor": "#333", "title": "Percentage exposed at t=0", "titleFontSize": 8.8, "titlePadding": 0}},
                  "x2": {"datum": 5},
                  "y": {"datum": 0, "type": "quantitative", "scale": {"domain": [0, 1000], "range": [109.4, 8.4], "nice": false}, "axis": {"orient": "left", "offset": -162, "values": [0, 200, 400, 600, 800, 1000], "tickCount": 30, "format": "~f", "labelOverlap": false, "tickSize": -2, "domain": false, "labelFontSize": 5.5, "labelPadding": 1.5, "labelColor": "#333", "title": "Opt. density (per hectare)", "titleFontSize": 8.6, "titlePadding": 1}},
                  "y2": {"datum": 1000}}},
    {"mark": {"type": "point", "shape": "circle", "filled": true, "color": "#ee4444", "size": 5, "opacity": 1}, "encoding": {"x": {"field": "x", "type": "quantitative"}, "y": {"field": "opt", "type": "quantitative"}}},
    {"data": {"values": [{"mx": 1, "my": 0}]}, "mark": {"type": "point", "shape": "circle", "filled": true, "color": "#000", "opacity": 1, "size": 12}, "encoding": {"x": {"field": "mx", "type": "quantitative"}, "y": {"field": "my", "type": "quantitative"}}}
  ]}
 ],
 "resolve": {"scale": {"x": "independent", "y": "independent"}}
}
],
"columns": 2,
"spacing": {"row": 100, "column": 119},
"bounds": "flush",
"config": {
 "view": {"stroke": null},
 "font": "Liberation Sans",
 "axis": {"labelFont": "Liberation Sans", "titleFont": "Liberation Sans", "labelFontSize": 13, "titleFontSize": 13.5, "titleFontWeight": "normal", "labelColor": "#000", "titleColor": "#000", "domainColor": "#000", "tickColor": "#000", "grid": false, "tickSize": 3, "labelFlush": false, "labelOverlap": false},
 "axisX": {"labelPadding": 2, "titlePadding": 0},
 "axisY": {"labelPadding": 1, "titlePadding": 0},
 "title": {"font": "DejaVu Sans", "fontSize": 27, "fontWeight": "normal", "color": "#000", "anchor": "start", "frame": "group", "baseline": "alphabetic"}
}
}
